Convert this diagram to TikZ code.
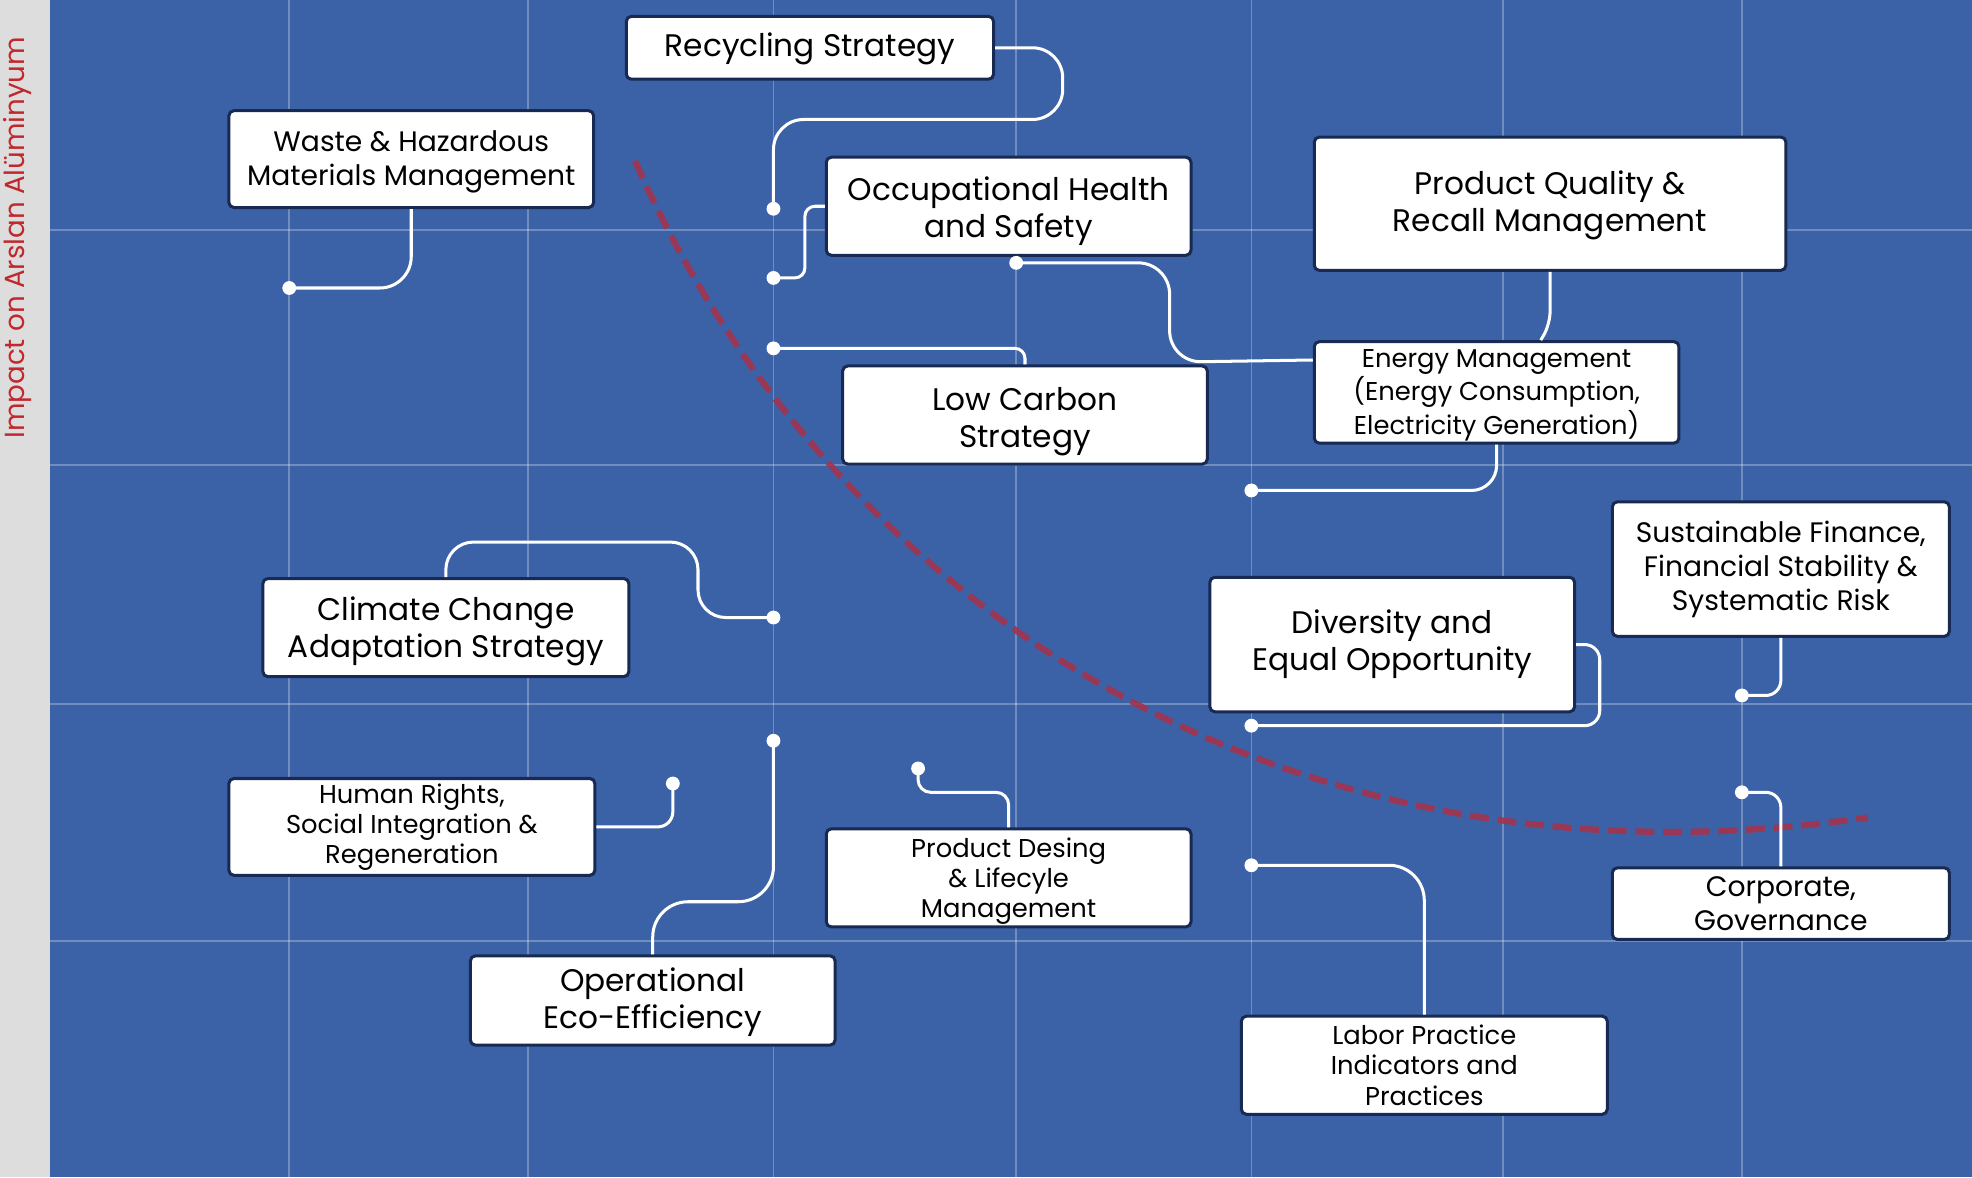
\documentclass[tikz,border=0pt]{standalone}
\usepackage{fontspec}
\setmainfont{Poppins}
\usetikzlibrary{calc}
\definecolor{bgblue}{RGB}{59,98,166}
\definecolor{strip}{RGB}{221,221,221}
\definecolor{boxborder}{RGB}{24,42,82}
\definecolor{curvered}{RGB}{165,50,75}
\definecolor{labelred}{RGB}{192,40,45}
\newcommand\txtdown[2]{\raisebox{-#1}[\height][\depth]{\begin{tabular}{@{}c@{}}#2\end{tabular}}}
\begin{document}
\begin{tikzpicture}[x=1pt,y=-1pt,
  box/.style={draw=boxborder, line width=2.4pt, fill=white, rounded corners=4pt, align=center, inner sep=2pt, text=black},
  big/.style={font=\fontsize{24.8}{29.5}\selectfont},
  mid/.style={font=\fontsize{22.4}{27}\selectfont},
  small/.style={font=\fontsize{20.5}{24}\selectfont},
  conn/.style={draw=white, line width=2.4pt},
  dotc/.style={fill=white},
  gridl/.style={draw=white, opacity=0.28, line width=1.4pt},
  riskcurve/.style={draw=curvered, opacity=0.88, line width=5pt, dash pattern=on 15pt off 7pt}
]
\useasboundingbox (0,0) rectangle (1568,936);
\fill[strip] (0,0) rectangle (40,936);
\fill[bgblue] (40,0) rectangle (1568,936);
% grid
\foreach \gx in {230,420,615,808,995,1195,1385} { \draw[gridl] (\gx,0) -- (\gx,936); }
\foreach \gy in {183,370,560,748} { \draw[gridl] (40,\gy) -- (1568,\gy); }
% axis label
\node[rotate=90, text=labelred, font=\fontsize{22}{26}\selectfont] (ylabel) at (14,189) {Impact on Arslan Alüminyum};
% red dashed curve
\draw[riskcurve] (505,128) .. controls (650,460) and (1000,720) .. (1485,650);
% boxes
\node[box, big, minimum width=292pt, minimum height=50pt] (rec) at (644,38) {\txtdown{1pt}{Recycling Strategy}};
\node[box, mid, minimum width=290pt, minimum height=77pt] (waste) at (327,126.5) {\txtdown{2pt}{Waste \& Hazardous\\Materials Management}};
\node[box, big, minimum width=290pt, minimum height=78pt] (ohs) at (802,164) {\txtdown{4.5pt}{Occupational Health\\and Safety}};
\node[box, big, minimum width=290pt, minimum height=78pt] (lcs) at (815,330) {\txtdown{5pt}{Low Carbon\\Strategy}};
\node[box, big, minimum width=375pt, minimum height=106pt] (pq) at (1232.5,162) {\txtdown{1.5pt}{Product Quality \&\\Recall Management}};
\node[box, small, minimum width=290pt, minimum height=78pt] (en) at (1190,312) {\txtdown{2pt}{Energy Management\\(Energy Consumption,\\Electricity Generation)}};
\node[box, mid, minimum width=268pt, minimum height=107pt] (sf) at (1416,452.5) {Sustainable Finance,\\Financial Stability \&\\Systematic Risk};
\node[box, big, minimum width=290pt, minimum height=107pt] (div) at (1107,512.5) {Diversity and\\Equal Opportunity};
\node[box, big, minimum width=291pt, minimum height=78pt] (cc) at (354.5,499) {\txtdown{3pt}{Climate Change\\Adaptation Strategy}};
\node[box, small, minimum width=291pt, minimum height=77pt] (hr) at (327.5,657.5) {Human Rights,\\Social Integration \&\\Regeneration};
\node[box, big, minimum width=290pt, minimum height=71pt] (oe) at (519,795.5) {\txtdown{2pt}{Operational\\Eco-Efficiency}};
\node[box, small, minimum width=290pt, minimum height=78pt] (pd) at (802,698) {\txtdown{3pt}{Product Desing\\\& Lifecyle\\Management}};
\node[box, small, minimum width=291pt, minimum height=78pt] (lp) at (1132.5,847) {Labor Practice\\Indicators and\\Practices};
\node[box, mid, minimum width=268pt, minimum height=57pt] (cg) at (1416,718.5) {Corporate,\\Governance};
% dot coordinates
\coordinate (d1) at (615,166);
\coordinate (d2) at (230,229);
\coordinate (d3) at (615,221);
\coordinate (d4) at (808,209);
\coordinate (d5) at (615,277);
\coordinate (d7) at (995,390);
\coordinate (d8) at (1385,553);
\coordinate (d9) at (995,577);
\coordinate (d10) at (615,491);
\coordinate (d11) at (535,623);
\coordinate (d12) at (615,589);
\coordinate (d13) at (730,611);
\coordinate (d14) at (995,688);
\coordinate (d15) at (1385,630);
% connectors
\draw[conn, rounded corners=24] (rec.east) -- (845,38) -- (845,95) -- (615,95) -- (d1);
\draw[conn, rounded corners=25] (waste.south) -- (327,229) -- (d2);
\draw[conn, rounded corners=8] (ohs.west) -- (640,164) -- (640,221) -- (d3);
\draw[conn, rounded corners=25] (d4) -- (930,209) -- (930,288) -- ($(en.north west)!0.19!(en.south west)$);
\draw[conn, rounded corners=8] (lcs.north) -- (815,277) -- (d5);
\draw[conn, rounded corners=10] (pq.south) -- (1232.5,258) -- ($(en.north west)!0.62!(en.north east)$);
\draw[conn, rounded corners=20] (en.south) -- (1190,390) -- (d7);
\draw[conn, rounded corners=12] (sf.south) -- (1416,553) -- (d8);
\draw[conn, rounded corners=12] (div.east) -- (1272,512.5) -- (1272,577) -- (d9);
\draw[conn, rounded corners=22] (cc.north) -- (354.5,431) -- (555,431) -- (555,491) -- (d10);
\draw[conn, rounded corners=12] (hr.east) -- (535,657.5) -- (d11);
\draw[conn, rounded corners=28] (oe.north) -- (519,717) -- (615,717) -- (d12);
\draw[conn, rounded corners=10] (pd.north) -- (802,630) -- (730,630) -- (d13);
\draw[conn, rounded corners=28] (lp.north) -- (1132.5,688) -- (d14);
\draw[conn, rounded corners=12] (cg.north) -- (1416,630) -- (d15);
% dots
\foreach \d in {d1,d2,d3,d4,d5,d7,d8,d9,d10,d11,d12,d13,d14,d15} { \fill[dotc] (\d) circle (5.5pt); }
\end{tikzpicture}
\end{document}
